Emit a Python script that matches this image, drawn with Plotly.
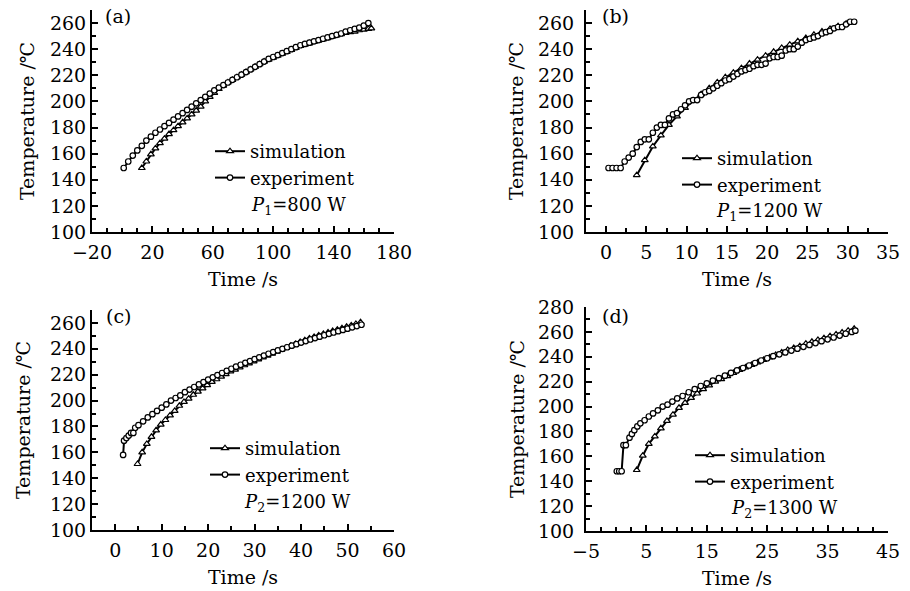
import plotly.graph_objects as go

FONT = "DejaVu Serif"

# ---------------- panel (a): P1 = 800 W ----------------
a_sim_time = [13, 16, 19, 22, 25, 28, 31, 34, 37, 40,
              43, 46, 49, 52, 55, 58, 61, 64, 67, 70,
              73, 76, 79, 82, 85, 88, 91, 94, 97, 100,
              103, 106, 109, 112, 115, 118, 121, 124, 127, 130,
              133, 136, 139, 142, 145, 148, 151, 154, 157, 160,
              163, 165]
a_sim_temp = [149, 154, 159.5, 164, 168, 171.5, 175, 178, 181, 184,
              187, 190, 193, 196, 200, 203.5, 206.5, 209.5, 212, 214.5,
              216.5, 218.5, 220.5, 222.5, 224.5, 226.5, 228.5, 230.5, 232, 233.5,
              235, 236.5, 238, 239.5, 241, 242.5, 243.5, 244.5, 245.5, 246.5,
              247.5, 248.5, 249.5, 250.5, 251.5, 252.5, 253, 253.5, 254.5, 255,
              255.5, 256]
a_exp_time = [1, 4, 7, 10, 13, 16, 19, 22, 25, 28,
              31, 34, 37, 40, 43, 46, 49, 52, 55, 58,
              61, 64, 67, 70, 73, 76, 79, 82, 85, 88,
              91, 94, 97, 100, 103, 106, 109, 112, 115, 118,
              121, 124, 127, 130, 133, 136, 139, 142, 145, 148,
              151, 154, 157, 160, 163]
a_exp_temp = [149, 154, 158.5, 162.5, 166, 170, 173, 176, 178.5, 181,
              183.5, 186, 188.5, 191, 193.5, 196, 198.5, 201, 203.5, 206,
              208.5, 210.5, 212.5, 214.5, 216.5, 218.5, 220.5, 222.5, 224.5, 226.5,
              228.5, 230.5, 232.5, 234, 235.5, 237, 238.5, 240, 241.5, 243,
              244, 245, 246, 247, 248, 249, 250, 251, 252, 253.5,
              254.5, 255.5, 256.5, 258, 260]

# ---------------- panel (b): P1 = 1200 W ----------------
b_sim_time = [3.8, 4.8, 5.8, 6.8, 7.8, 8.8, 9.8, 10.8, 11.8, 12.8,
              13.8, 14.8, 15.8, 16.8, 17.8, 18.8, 19.8, 20.8, 21.8, 22.8,
              23.8, 24.8, 25.8, 26.8, 27.8, 28.8, 29.8]
b_sim_temp = [143.5, 155, 165.5, 174, 182, 188.5, 195, 200.5, 205.5, 210,
              214.5, 218.5, 222, 225.5, 229, 232, 235, 238, 241, 243.5,
              246, 248.5, 251, 253.5, 255.5, 257.5, 259.5]
b_exp_time = [0.3, 0.8, 1.3, 1.8, 2.3, 2.8, 3.3, 3.8, 4.3, 4.8,
              5.3, 5.8, 6.3, 6.8, 7.3, 7.8, 8.3, 8.8, 9.3, 9.8,
              10.3, 10.8, 11.3, 11.8, 12.3, 12.8, 13.3, 13.8, 14.3, 14.8,
              15.3, 15.8, 16.3, 16.8, 17.3, 17.8, 18.3, 18.8, 19.3, 19.8,
              20.3, 20.8, 21.3, 21.8, 22.3, 22.8, 23.3, 23.8, 24.3, 24.8,
              25.3, 25.8, 26.3, 26.8, 27.3, 27.8, 28.3, 28.8, 29.3, 29.8,
              30.3, 30.8]
b_exp_temp = [149, 149, 149, 149, 154, 157, 160, 165, 169, 171,
              171, 176, 180, 182, 182, 187, 190, 191, 194, 197,
              200, 201, 201, 205, 207, 208, 210, 212, 214, 216,
              217, 219, 221, 223, 224, 225, 227, 228, 228, 229,
              233, 234, 234, 235, 239, 240, 240, 242, 245, 247,
              248, 249, 250, 252, 253, 254, 256, 257, 257, 259,
              261, 261]

# ---------------- panel (c): P2 = 1200 W ----------------
c_sim_time = [4.8, 5.8, 6.8, 7.8, 8.8, 9.8, 10.8, 11.8, 12.8, 13.8,
              14.8, 15.8, 16.8, 17.8, 18.8, 19.8, 20.8, 21.8, 22.8, 23.8,
              24.8, 25.8, 26.8, 27.8, 28.8, 29.8, 30.8, 31.8, 32.8, 33.8,
              34.8, 35.8, 36.8, 37.8, 38.8, 39.8, 40.8, 41.8, 42.8, 43.8,
              44.8, 45.8, 46.8, 47.8, 48.8, 49.8, 50.8, 51.8, 52.8]
c_sim_temp = [151, 160, 166.5, 172, 177, 181.5, 185, 188.5, 192, 196,
              199, 201.5, 204.5, 207, 209.5, 212, 214.5, 216.5, 218.5, 220.5,
              222.5, 224, 225.7, 227.3, 228.8, 230.3, 231.8, 233.3, 234.8, 236.3,
              237.8, 239.3, 240.8, 242.3, 243.8, 245.2, 246.6, 248, 249.2, 250.4,
              251.5, 252.6, 253.7, 254.8, 255.9, 257, 258.1, 259.2, 260.5]
c_exp_time = [1.7, 1.9, 2.4, 2.9, 3.4, 3.9, 4.3,
              5, 6, 7, 8, 9, 10, 11, 12, 13, 14,
              15, 16, 17, 18, 19, 20, 21, 22, 23, 24,
              25, 26, 27, 28, 29, 30, 31, 32, 33, 34,
              35, 36, 37, 38, 39, 40, 41, 42, 43, 44,
              45, 46, 47, 48, 49, 50, 51, 52, 53]
c_exp_temp = [158, 169, 171, 173, 175, 175, 179,
              181, 184, 187, 189.5, 192, 194.5, 197, 200, 202, 204,
              206.5, 208.5, 210.5, 212.5, 214.3, 216.2, 218, 219.7, 221.3, 223,
              224.6, 226.2, 227.7, 229.2, 230.5, 232, 233.4, 234.8, 236.2, 237.5,
              238.8, 240, 241.2, 242.4, 243.6, 244.8, 246, 247.2, 248.3, 249.4,
              250.5, 251.6, 252.6, 253.6, 254.6, 255.6, 256.6, 257.6, 258.6]

# ---------------- panel (d): P2 = 1300 W ----------------
d_sim_time = [3.4, 4.4, 5.4, 6.4, 7.4, 8.4, 9.4, 10.4, 11.4, 12.4,
              13.4, 14.4, 15.4, 16.4, 17.4, 18.4, 19.4, 20.4, 21.4, 22.4,
              23.4, 24.4, 25.4, 26.4, 27.4, 28.4, 29.4, 30.4, 31.4, 32.4,
              33.4, 34.4, 35.4, 36.4, 37.4, 38.4, 39.4]
d_sim_temp = [149, 160.5, 170, 176, 182.5, 188.5, 193.5, 199, 203, 207,
              210.5, 214, 217, 220, 222, 224.5, 227, 229.5, 231.5, 233.5,
              235.5, 237.5, 239.5, 241.5, 243.5, 245.5, 247, 248.5, 250.5, 252,
              253.5, 255, 256.5, 258, 259.5, 261, 262.5]
d_exp_time = [0.1, 0.5, 0.9, 1.2, 1.6, 2.2, 2.6, 3.0, 3.5, 4.0,
              4.7, 5.4, 6.1, 6.9, 7.7, 8.5, 9.3, 10.1, 11.0,
              12, 13, 14, 15, 16, 17, 18, 19, 20, 21,
              22, 23, 24, 25, 26, 27, 28, 29, 30, 31,
              32, 33, 34, 35, 36, 37, 38, 39, 39.6]
d_exp_temp = [148, 148, 148, 169, 169, 175, 178, 181, 184, 186.5,
              189, 192, 194.5, 197, 200, 201.5, 204, 206.5, 208.5,
              211.5, 214, 216.5, 218.7, 220.8, 222.8, 224.8, 227, 229, 231,
              233, 235, 237, 238.8, 240.5, 242, 243.5, 245, 246.5, 248,
              249.5, 251, 252.5, 254, 255.5, 257, 258.5, 260, 261]

# ---------------- tick labels / texts ----------------
a_x_tickvals = [-20, 20, 60, 100, 140, 180]
a_x_ticktext = ["\u221220", "20", "60", "100", "140", "180"]
b_x_tickvals = [0, 5, 10, 15, 20, 25, 30, 35]
b_x_ticktext = ["0", "5", "10", "15", "20", "25", "30", "35"]
c_x_tickvals = [0, 10, 20, 30, 40, 50, 60]
c_x_ticktext = ["0", "10", "20", "30", "40", "50", "60"]
d_x_tickvals = [-5, 5, 15, 25, 35, 45]
d_x_ticktext = ["\u22125", "5", "15", "25", "35", "45"]
y_tickvals_abc = [100, 120, 140, 160, 180, 200, 220, 240, 260]
y_tickvals_d = [100, 120, 140, 160, 180, 200, 220, 240, 260, 280]

panel_labels = ["(a)", "(b)", "(c)", "(d)"]
power_labels = ["<i>P</i><sub>1</sub>=800 W", "<i>P</i><sub>1</sub>=1200 W",
                "<i>P</i><sub>2</sub>=1200 W", "<i>P</i><sub>2</sub>=1300 W"]
series_names = ["simulation", "experiment"]
x_title = "Time /s"
y_title = "Temperature /\u2103"

W, H = 910, 591


def fx(px):
    return px / W


def fy(py):
    return (H - py) / H


fig = go.Figure()

panels = [
    dict(xa="x", ya="y", lg="legend", sim=(a_sim_time, a_sim_temp), exp=(a_exp_time, a_exp_temp)),
    dict(xa="x2", ya="y2", lg="legend2", sim=(b_sim_time, b_sim_temp), exp=(b_exp_time, b_exp_temp)),
    dict(xa="x3", ya="y3", lg="legend3", sim=(c_sim_time, c_sim_temp), exp=(c_exp_time, c_exp_temp)),
    dict(xa="x4", ya="y4", lg="legend4", sim=(d_sim_time, d_sim_temp), exp=(d_exp_time, d_exp_temp)),
]

for p in panels:
    fig.add_trace(go.Scatter(
        x=p["sim"][0], y=p["sim"][1], name=series_names[0], mode="lines+markers",
        xaxis=p["xa"], yaxis=p["ya"], legend=p["lg"],
        line=dict(color="black", width=2),
        marker=dict(symbol="triangle-up", size=6, color="white",
                    line=dict(color="black", width=1.2)),
    ))
    fig.add_trace(go.Scatter(
        x=p["exp"][0], y=p["exp"][1], name=series_names[1], mode="lines+markers",
        xaxis=p["xa"], yaxis=p["ya"], legend=p["lg"],
        line=dict(color="black", width=2),
        marker=dict(symbol="circle", size=5.5, color="white",
                    line=dict(color="black", width=1.2)),
    ))

tickfont = dict(family=FONT, size=19, color="black")
titlefont = dict(family=FONT, size=19, color="black")
common = dict(showline=True, linecolor="black", linewidth=2, ticks="inside",
              ticklen=6, tickwidth=2, tickcolor="black", showgrid=False,
              zeroline=False, tickfont=tickfont, tickmode="array")


def xax(dom, anchor, rng, vals, text, minor_dtick, minor_tick0):
    d = dict(common)
    d.update(domain=dom, anchor=anchor, range=rng, tickvals=vals, ticktext=text,
             ticklabelstandoff=2,
             title=dict(text=x_title, font=titlefont, standoff=11),
             minor=dict(ticks="inside", ticklen=4, tickwidth=1.5, tickcolor="black",
                        tickmode="linear", tick0=minor_tick0, dtick=minor_dtick))
    return d


def yax(dom, anchor, rng, vals, standoff, label_gap):
    d = dict(common)
    d.update(domain=dom, anchor=anchor, range=rng, tickvals=vals,
             ticktext=[str(v) for v in vals], ticklabelstandoff=label_gap,
             title=dict(text=y_title, font=titlefont, standoff=standoff),
             minor=dict(ticks="inside", ticklen=4, tickwidth=1.5, tickcolor="black",
                        tickmode="linear", tick0=100, dtick=10))
    return d


left_dom = [fx(92), fx(394)]
right_dom = [fx(586), fx(888)]

fig.update_layout(
    width=W, height=H,
    margin=dict(l=0, r=0, t=0, b=0, autoexpand=False),
    plot_bgcolor="white", paper_bgcolor="white",
    font=dict(family=FONT, color="black"),
    xaxis=xax(left_dom, "y", [-20, 180], a_x_tickvals, a_x_ticktext, 10, -20),
    yaxis=yax([fy(232), fy(10)], "x", [100, 270], y_tickvals_abc, 10, 0),
    xaxis2=xax(right_dom, "y2", [-2.5, 35], b_x_tickvals, b_x_ticktext, 2.5, 0),
    yaxis2=yax([fy(232), fy(10)], "x2", [100, 270], y_tickvals_abc, 9, 6),
    xaxis3=xax(left_dom, "y3", [-5, 60], c_x_tickvals, c_x_ticktext, 5, 0),
    yaxis3=yax([fy(530), fy(310)], "x3", [100, 270], y_tickvals_abc, 14, 0),
    xaxis4=xax(right_dom, "y4", [-5, 45], d_x_tickvals, d_x_ticktext, 2.5, -5),
    yaxis4=yax([fy(531), fy(307)], "x4", [100, 280], y_tickvals_d, 8, 6),
)

legend_pos = [(210, 133), (677, 140), (205, 430), (690, 437)]
for i, (lx, ly) in enumerate(legend_pos):
    key = "legend" if i == 0 else "legend%d" % (i + 1)
    fig.update_layout(**{key: dict(x=fx(lx), y=fy(ly), xanchor="left", yanchor="top",
                                   bgcolor="rgba(0,0,0,0)", borderwidth=0,
                                   font=dict(family=FONT, size=18, color="black"),
                                   traceorder="normal")})

label_pos = [(118, 16), (615, 16), (118, 316), (615, 316)]
for txt, (lx, ly) in zip(panel_labels, label_pos):
    fig.add_annotation(text=txt, x=fx(lx), y=fy(ly), xref="paper", yref="paper",
                       showarrow=False, xanchor="center", yanchor="middle",
                       font=dict(family=FONT, size=19, color="black"))

power_pos = [(249, 206), (714, 212), (242, 503), (729, 509)]
for txt, (lx, ly) in zip(power_labels, power_pos):
    fig.add_annotation(text=txt, x=fx(lx), y=fy(ly), xref="paper", yref="paper",
                       showarrow=False, xanchor="left", yanchor="middle",
                       font=dict(family=FONT, size=18, color="black"))

# the page's default body margin would shift the figure; remove it
fig.write_html("out.html", config={"displayModeBar": False},
               post_script="document.body.style.margin='0';")
